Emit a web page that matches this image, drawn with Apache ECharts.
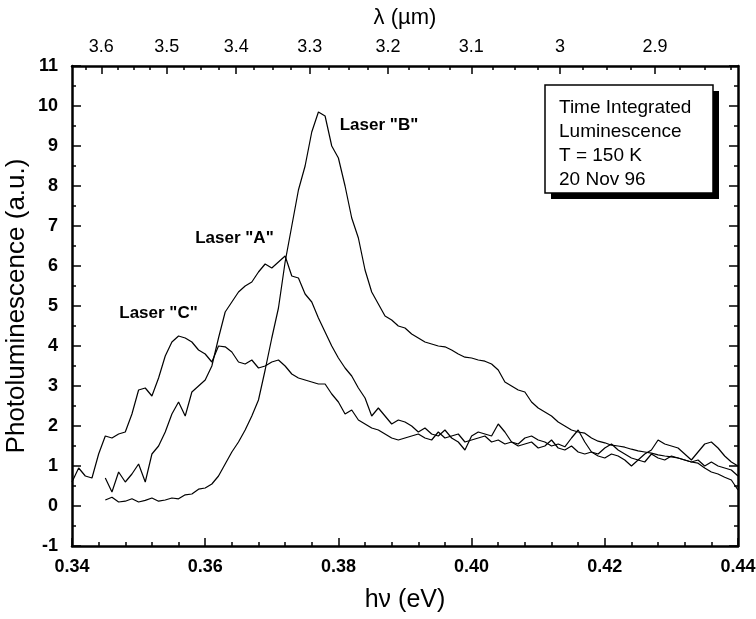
<!DOCTYPE html>
<html><head><meta charset="utf-8">
<script src="https://cdn.jsdelivr.net/npm/echarts@6/dist/echarts.min.js"></script>
<style>html,body{margin:0;padding:0;background:#fff}#c{width:756px;height:619px}</style>
</head><body><div id="c"></div>
<script>
// photon energy grid (eV)
const energy = [0.340,0.341,0.342,0.343,0.344,0.345,0.346,0.347,0.348,0.349,
0.350,0.351,0.352,0.353,0.354,0.355,0.356,0.357,0.358,0.359,
0.360,0.361,0.362,0.363,0.364,0.365,0.366,0.367,0.368,0.369,
0.370,0.371,0.372,0.373,0.374,0.375,0.376,0.377,0.378,0.379,
0.380,0.381,0.382,0.383,0.384,0.385,0.386,0.387,0.388,0.389,
0.390,0.391,0.392,0.393,0.394,0.395,0.396,0.397,0.398,0.399,
0.400,0.401,0.402,0.403,0.404,0.405,0.406,0.407,0.408,0.409,
0.410,0.411,0.412,0.413,0.414,0.415,0.416,0.417,0.418,0.419,
0.420,0.421,0.422,0.423,0.424,0.425,0.426,0.427,0.428,0.429,
0.430,0.431,0.432,0.433,0.434,0.435,0.436,0.437,0.438,0.439,0.440];

const laserB = [null,null,null,null,null,0.15,0.22,0.10,0.12,0.18,
0.10,0.14,0.20,0.12,0.15,0.20,0.18,0.28,0.30,0.42,
0.45,0.55,0.75,1.05,1.35,1.60,1.90,2.25,2.65,3.40,
4.20,4.95,6.10,7.00,7.90,8.50,9.35,9.85,9.75,9.00,
8.70,8.00,7.20,6.70,5.90,5.35,5.05,4.75,4.65,4.50,
4.45,4.30,4.20,4.10,4.05,4.00,3.98,3.90,3.80,3.72,
3.70,3.65,3.62,3.55,3.40,3.10,3.00,2.90,2.85,2.60,
2.45,2.35,2.25,2.10,2.00,1.90,1.85,1.82,1.70,1.62,
1.58,1.52,1.50,1.47,1.42,1.38,1.35,1.32,1.28,1.25,
1.23,1.20,1.15,1.10,1.07,0.95,0.85,0.80,0.72,0.65,0.40];

const laserA = [null,null,null,null,null,0.70,0.35,0.85,0.60,0.80,
1.05,0.60,1.30,1.50,1.85,2.30,2.60,2.25,2.85,3.00,
3.15,3.50,4.20,4.85,5.10,5.35,5.50,5.60,5.85,6.05,
5.95,6.10,6.25,5.75,5.70,5.30,5.10,4.70,4.35,4.00,
3.70,3.45,3.25,2.95,2.70,2.25,2.45,2.25,2.05,2.15,
2.10,2.00,1.85,1.95,1.80,1.75,1.90,1.70,1.60,1.40,
1.75,1.85,1.80,1.75,2.05,1.85,1.60,1.55,1.70,1.75,
1.65,1.60,1.50,1.55,1.48,1.70,1.90,1.60,1.35,1.30,
1.45,1.55,1.40,1.30,1.20,1.15,1.10,1.30,1.20,1.15,
1.25,1.20,1.15,1.10,1.15,1.00,1.10,1.00,0.95,0.90,0.75];

const laserC = [0.60,0.95,0.75,0.70,1.30,1.75,1.70,1.80,1.85,2.30,
2.90,2.95,2.75,3.20,3.75,4.10,4.25,4.20,4.10,3.90,
3.80,3.60,4.00,3.98,3.85,3.60,3.55,3.65,3.45,3.50,
3.60,3.65,3.50,3.30,3.20,3.15,3.10,3.05,3.05,2.80,
2.60,2.30,2.40,2.15,2.05,1.95,1.90,1.80,1.70,1.65,
1.70,1.75,1.80,1.70,1.65,1.85,1.70,1.75,1.80,1.60,
1.65,1.70,1.75,1.60,1.65,1.55,1.60,1.50,1.55,1.60,
1.45,1.50,1.65,1.45,1.40,1.50,1.35,1.30,1.35,1.25,
1.20,1.30,1.25,1.15,1.00,1.15,1.30,1.40,1.65,1.55,
1.50,1.45,1.30,1.15,1.35,1.55,1.60,1.45,1.25,1.10,1.00];

// top axis: wavelength ticks (µm)
const lambdaTicks = [3.6,3.5,3.4,3.3,3.2,3.1,3.0,2.9];
const lambdaLabels = ['3.6','3.5','3.4','3.3','3.2','3.1','3','2.9'];
const lambdaMinor = [3.625,3.575,3.55,3.525,3.475,3.45,3.425,3.375,3.35,3.325,3.275,3.25,3.225,
3.175,3.15,3.125,3.075,3.05,3.025,2.975,2.95,2.925,2.875,2.85,2.825];
const HC = 1.23984; // eV·µm

const annotations = [
  {text:'Laser "B"', x:0.3802, y:9.52},
  {text:'Laser "A"', x:0.3585, y:6.70},
  {text:'Laser "C"', x:0.3471, y:4.82}
];
const boxLines = ['Time Integrated','Luminescence','T = 150 K','20 Nov 96'];

const FONT = "'Liberation Sans', Arial, Helvetica, sans-serif";
const toPairs = arr => energy.map((e,i)=>[e,arr[i]]).filter(p=>p[1]!==null);
const lamPos = lambdaTicks.map(l=>HC/l);
const lamMinPos = lambdaMinor.map(l=>HC/l);

const chart = echarts.init(document.getElementById('c'), null, {renderer:'canvas'});
const axLine = {show:true, onZero:false, lineStyle:{color:'#000', width:2.5}};
const lineSeries = (name, arr) => ({
  name, type:'line', data: toPairs(arr), showSymbol:false, symbol:'none',
  lineStyle:{color:'#000', width:1.2}, animation:false, xAxisIndex:0, yAxisIndex:0
});

chart.setOption({
  animation:false,
  backgroundColor:'#fff',
  grid:{left:72, right:18, top:66, bottom:73, containLabel:false, outerBoundsMode:'none'},
  xAxis:[
    {type:'value', position:'bottom', min:0.34, max:0.44, interval:0.02,
     axisLine:axLine,
     axisTick:{show:true, inside:true, length:8, lineStyle:{color:'#000', width:1.5}},
     minorTick:{show:true, splitNumber:5, length:4, lineStyle:{color:'#000', width:1.5}},
     splitLine:{show:false}, minorSplitLine:{show:false},
     axisLabel:{color:'#000', fontFamily:FONT, fontWeight:'bold', fontSize:18, margin:12,
       formatter:v=>v.toFixed(2)},
     name:'h\u03bd (eV)', nameLocation:'middle', nameGap:42, nameMoveOverlap:false,
     nameTextStyle:{color:'#000', fontFamily:FONT, fontSize:25}},
    {type:'value', position:'top', min:0.34, max:0.44,
     axisLine:axLine,
     axisTick:{show:true, inside:true, length:8, customValues:lamPos, lineStyle:{color:'#000', width:1.5}},
     splitLine:{show:false},
     axisLabel:{color:'#000', fontFamily:FONT, fontSize:18, margin:10, customValues:lamPos,
       formatter:v=>{for(let i=0;i<lamPos.length;i++){if(Math.abs(lamPos[i]-v)<1e-6) return lambdaLabels[i];} return '';}},
     name:'\u03bb (\u00b5m)', nameLocation:'middle', nameGap:37, nameMoveOverlap:false,
     nameTextStyle:{color:'#000', fontFamily:FONT, fontSize:22}},
    {type:'value', position:'top', min:0.34, max:0.44,
     axisLine:{show:false, onZero:false},
     axisTick:{show:true, inside:true, length:4, customValues:lamMinPos, lineStyle:{color:'#000', width:1.5}},
     splitLine:{show:false}, axisLabel:{show:false}}
  ],
  yAxis:[
    {type:'value', position:'left', min:-1, max:11, interval:1,
     axisLine:axLine,
     axisTick:{show:true, inside:true, length:9, lineStyle:{color:'#000', width:1.5}},
     minorTick:{show:true, splitNumber:2, length:4, lineStyle:{color:'#000', width:1.5}},
     splitLine:{show:false}, minorSplitLine:{show:false},
     axisLabel:{color:'#000', fontFamily:FONT, fontWeight:'bold', fontSize:18, margin:14},
     name:'Photoluminescence (a.u.)', nameLocation:'middle', nameGap:42, nameMoveOverlap:false,
     nameTextStyle:{color:'#000', fontFamily:FONT, fontSize:26}},
    {type:'value', position:'right', min:-1, max:11, interval:1,
     axisLine:axLine,
     axisTick:{show:true, inside:true, length:9, lineStyle:{color:'#000', width:1.5}},
     minorTick:{show:true, splitNumber:2, length:4, lineStyle:{color:'#000', width:1.5}},
     splitLine:{show:false}, minorSplitLine:{show:false}, axisLabel:{show:false}}
  ],
  series:[lineSeries('Laser B', laserB), lineSeries('Laser A', laserA), lineSeries('Laser C', laserC)]
});

// annotations and info box
const g = [];
annotations.forEach(a=>{
  const p = chart.convertToPixel({xAxisIndex:0, yAxisIndex:0}, [a.x, a.y]);
  g.push({type:'text', x:p[0], y:p[1], style:{text:a.text, fill:'#000', font:'bold 17px '+FONT, textAlign:'left', textVerticalAlign:'middle'}});
});
const bx = 545, by = 85, bw = 168, bh = 108;
g.push({type:'rect', shape:{x:bx+6, y:by+6, width:bw, height:bh}, style:{fill:'#000'}});
g.push({type:'rect', shape:{x:bx, y:by, width:bw, height:bh}, style:{fill:'#fff', stroke:'#000', lineWidth:1.5}});
boxLines.forEach((t,i)=>{
  g.push({type:'text', x:bx+14, y:by+23+i*24, style:{text:t, fill:'#000', font:'19px '+FONT, textAlign:'left', textVerticalAlign:'middle'}});
});
chart.setOption({graphic:g});
</script></body></html>
